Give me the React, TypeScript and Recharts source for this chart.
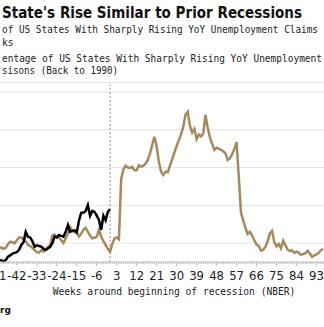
import React from "react";
import {
  LineChart,
  Line,
  XAxis,
  YAxis,
  CartesianGrid,
  ReferenceLine
} from "recharts";

// weeks around the start of the recession, first week shown
const firstWeek = -50;

// prior recessions (back to 1990), % of states, weekly from week -50
const priorRecessions = [
  8, 7.5, 7, 7.5, 9.5, 10.7, 10.5, 9.9, 11.5, 13,
  13, 12, 11, 9, 8.5, 7.5, 6.3, 5.2, 5, 6.3,
  5.5, 7, 8, 9, 14, 14.5, 13.2, 12.8, 11.5, 10,
  12.5, 15, 18.5, 16.5, 15.8, 15.3, 13.5, 15, 17, 18,
  16, 14, 12.5, 12.8, 13.4, 17, 13.4, 11, 9, 7,
  5.4, 9.5, 12.5, 13, 12, 44, 49, 51, 50, 49.8,
  50.4, 48.5, 48.5, 51.2, 50.5, 51, 52, 54, 57.5, 62,
  66.3, 61, 53, 47.8, 46, 47.8, 47.5, 51, 54.5, 58,
  61.5, 64.5, 67.5, 71.6, 78, 79.5, 72, 68.5, 70.5, 65,
  67.5, 66.5, 68, 77.8, 71, 66, 62.5, 59.3, 60.5, 60,
  59.3, 58.6, 57.5, 54, 54.9, 57, 59.8, 63.5, 45, 26,
  22, 18, 14.8, 16, 14, 11.5, 9.2, 8.5, 6, 6.5,
  8, 11, 15, 16.5, 10.5, 8.3, 9.5, 7.2, 11.3, 9,
  6.5, 5.8, 6.2, 4.8, 5.5, 5, 3.8, 4.2, 4.6, 6,
  4.5, 2.8, 3.5, 4, 4.8, 6.2, 6.9
];

// current cycle, % of states, weekly from week -50 to week 0
const currentStates = [
  1, 0.8, 0.3, 1, 2.8, 3.5, 4.4, 4.8, 5.2, 6.5,
  9, 10.5, 16, 13.4, 13, 11, 8.1, 8.8, 8.5, 8.1,
  7, 6.3, 7.2, 8, 10, 13.4, 13, 14.3, 13.8, 13.4,
  16, 19.6, 16, 16.5, 16.8, 15.7, 22, 26, 26, 27,
  30.2, 24.5, 27, 26.5, 24.5, 22.2, 17, 24.5, 22, 26.6,
  27.9
];

const tickLabels = [-51, -42, -33, -24, -15, -6, 3, 12, 21, 30, 39, 48, 57, 66, 75, 84, 93];
const gridValues = [0, 10, 20, 30, 40, 50, 60, 70, 80, 90];

const weekTicks: number[] = [];
for (let w = -55; w <= 100; w++) weekTicks.push(w);

const data = priorRecessions.map((v, i) => ({
  week: firstWeek + i,
  prior: v,
  current: i < currentStates.length ? currentStates[i] : null
}));

const WeekTick = (props: any) => {
  const { x, y, payload } = props;
  const major = tickLabels.includes(payload.value);
  return (
    <g>
      <line x1={x} x2={x} y1={y} y2={y + (major ? 4 : 2)} stroke="#bbb" strokeWidth={1} />
      {major && (
        <text
          x={x}
          y={y + 18}
          textAnchor="middle"
          fill="#222"
          fontSize={11.7}
          fontFamily="'DejaVu Sans', sans-serif"
        >
          {String(payload.value)}
        </text>
      )}
    </g>
  );
};

const mono = "'DejaVu Sans Mono', monospace";

export default function App() {
  return (
    <div
      style={{
        position: "fixed",
        left: 0,
        top: 0,
        width: 324,
        height: 327,
        overflow: "hidden",
        background: "#fff"
      }}
    >
      <div style={{ position: "absolute", left: -20, top: 0 }}>
        <LineChart
          width={372}
          height={327}
          data={data}
          margin={{ top: 82.5, right: 20, left: 8, bottom: 0 }}
        >
          <CartesianGrid vertical={false} stroke="#e3e3e3" />
          <XAxis
            type="number"
            dataKey="week"
            domain={[-55, 100]}
            ticks={weekTicks}
            interval={0}
            height={65}
            tickSize={0}
            tickMargin={0}
            tickLine={false}
            axisLine={{ stroke: "#c8c8c8" }}
            tick={<WeekTick />}
          />
          <YAxis hide domain={[0, 95]} ticks={gridValues} />
          <ReferenceLine x={0} stroke="#999" strokeDasharray="2 2" />
          <Line
            type="linear"
            dataKey="prior"
            stroke="#a68a5c"
            strokeWidth={2.5}
            dot={false}
            isAnimationActive={false}
          />
          <Line
            type="linear"
            dataKey="current"
            stroke="#000"
            strokeWidth={2.5}
            dot={false}
            connectNulls={false}
            isAnimationActive={false}
          />
        </LineChart>
      </div>

      {/* Header and footer texts */}
      <svg width={324} height={327} style={{ position: "absolute", left: 0, top: 0, pointerEvents: "none" }}>
        <text x={2} y={17.5} fontFamily="'DejaVu Sans', sans-serif" fontWeight="bold" fontSize={15}
          textLength={300} lengthAdjust="spacingAndGlyphs" fill="#111">
          State's Rise Similar to Prior Recessions
        </text>
        <text x={2} y={33} fontFamily={mono} fontSize={9.6} textLength={316} lengthAdjust="spacingAndGlyphs" fill="#222">
          of US States With Sharply Rising YoY Unemployment Claims
        </text>
        <text x={2} y={45.5} fontFamily={mono} fontSize={9.6} fill="#222">
          ks
        </text>
        <text x={2} y={62} fontFamily={mono} fontSize={9.6} textLength={320} lengthAdjust="spacingAndGlyphs" fill="#222">
          entage of US States With Sharply Rising YoY Unemployment
        </text>
        <text x={2} y={74} fontFamily={mono} fontSize={9.6} textLength={116} lengthAdjust="spacingAndGlyphs" fill="#222">
          sisons (Back to 1990)
        </text>
        <text x={174} y={295} textAnchor="middle" fontFamily={mono} fontSize={9.6} fill="#222">
          Weeks around beginning of recession (NBER)
        </text>
        <text x={0} y={312.5} fontFamily="'DejaVu Sans', sans-serif" fontWeight="bold" fontSize={9} fill="#111">
          rg
        </text>
      </svg>
    </div>
  );
}
